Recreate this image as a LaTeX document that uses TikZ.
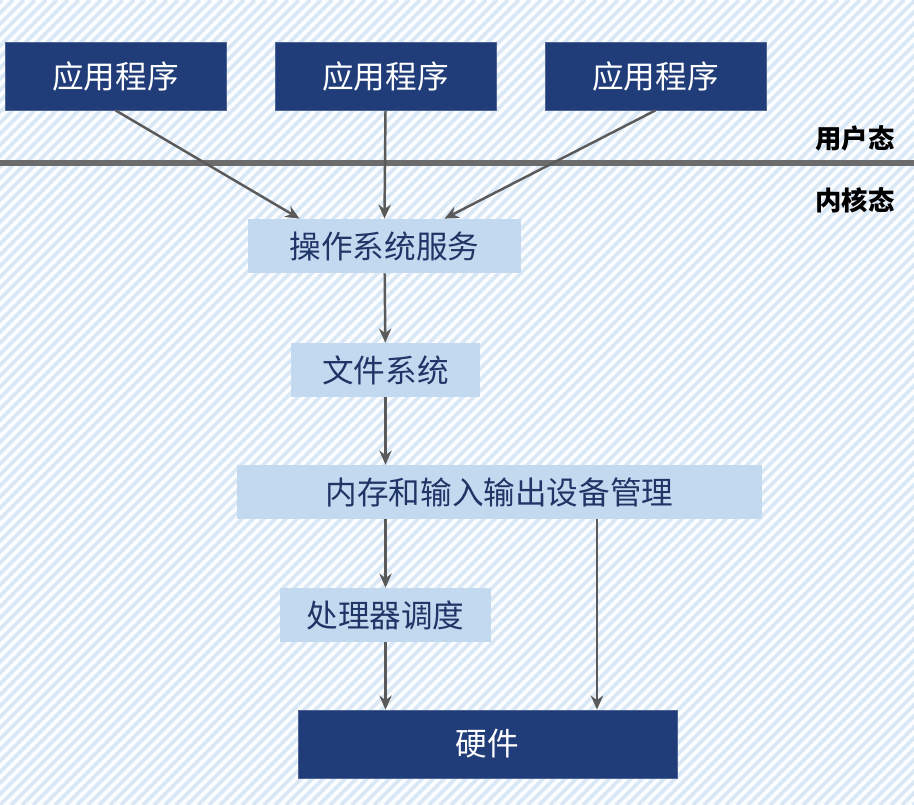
\documentclass[tikz,border=0pt]{standalone}
\usepackage{fontspec}
\usepackage{xcolor}
\usepackage{tikz}
\usetikzlibrary{positioning,arrows.meta}
\newfontfamily\cjk{Noto Sans CJK SC}
\definecolor{navy}{HTML}{203D7A}
\definecolor{paleblue}{HTML}{C3D9EF}
\definecolor{inktext}{HTML}{1F3566}
\definecolor{stripeblue}{HTML}{DAE7F5}
\definecolor{arrowgray}{HTML}{5A5A5A}

\begin{document}
\begin{tikzpicture}[
        x=0.02cm, y=-0.02cm,
        darkbox/.style={rectangle, fill=navy, draw=navy!80!white, text=white, minimum height=1.36cm, align=center, font=\cjk\fontsize{18}{20}\selectfont},
        lightbox/.style={rectangle, fill=paleblue, text=inktext, minimum height=1.08cm, align=center, font=\cjk\fontsize{18}{20}\selectfont},
        modelabel/.style={font=\cjk\bfseries\fontsize{15}{17}\selectfont, text=black},
        arrow/.style={-{Stealth[length=8pt, width=7pt]}, line width=1.4pt, draw=arrowgray},
        divider/.style={line width=3pt, draw=gray!85!black}
    ]
        \useasboundingbox (0,0) rectangle (914,805);

        % Background stripes
        \fill[white!93!stripeblue] (0,0) rectangle (914,805);
        \begin{scope}
            \clip (0,0) rectangle (914,805);
            \foreach \i in {-75,...,84}
                \draw[stripeblue, line width=2.2pt] (\i*11,805) -- ++(805,-805);
        \end{scope}

        % User mode
        \node[darkbox, minimum width=4.42cm] (app1) at (115.5,76) {应用程序};
        \node[darkbox, minimum width=4.42cm] (app2) at (385.5,76) {应用程序};
        \node[darkbox, minimum width=4.42cm] (app3) at (655.5,76) {应用程序};

        % Mode boundary
        \coordinate (lineL) at (0,163);
        \coordinate (lineR) at (914,163);
        \draw[divider] (lineL) -- (lineR);
        \node[modelabel] (user) at (855,138) {用户态};
        \node[modelabel] (kernel) at (855,200) {内核态};

        % Kernel layers
        \node[lightbox, minimum width=5.46cm] (service) at (384.5,246) {操作系统服务};
        \node[lightbox, minimum width=3.78cm] (files) at (385.5,370) {文件系统};
        \node[lightbox, minimum width=10.5cm] (memio) at (499.5,492) {内存和输入输出设备管理};
        \node[lightbox, minimum width=4.22cm] (cpu) at (385.5,615) {处理器调度};

        % Hardware
        \node[darkbox, minimum width=7.58cm] (hw) at (487.5,744) {硬件};

        % Arrows
        \draw[arrow] (app1.south) -- ([xshift=-1.7cm]service.north);
        \draw[arrow] (app2.south) -- (service.north);
        \draw[arrow] (app3.south) -- ([xshift=1.2cm]service.north);
        \draw[arrow] (service) -- (files);
        \draw[arrow] (files.south) -- (files.south |- memio.north);
        \draw[arrow] (cpu.north |- memio.south) -- (cpu.north);
        \draw[arrow] ([xshift=1.95cm]memio.south) coordinate (m1) -- (m1 |- hw.north);
        \draw[arrow] (cpu.south) -- (cpu.south |- hw.north);
    \end{tikzpicture}
\end{document}
